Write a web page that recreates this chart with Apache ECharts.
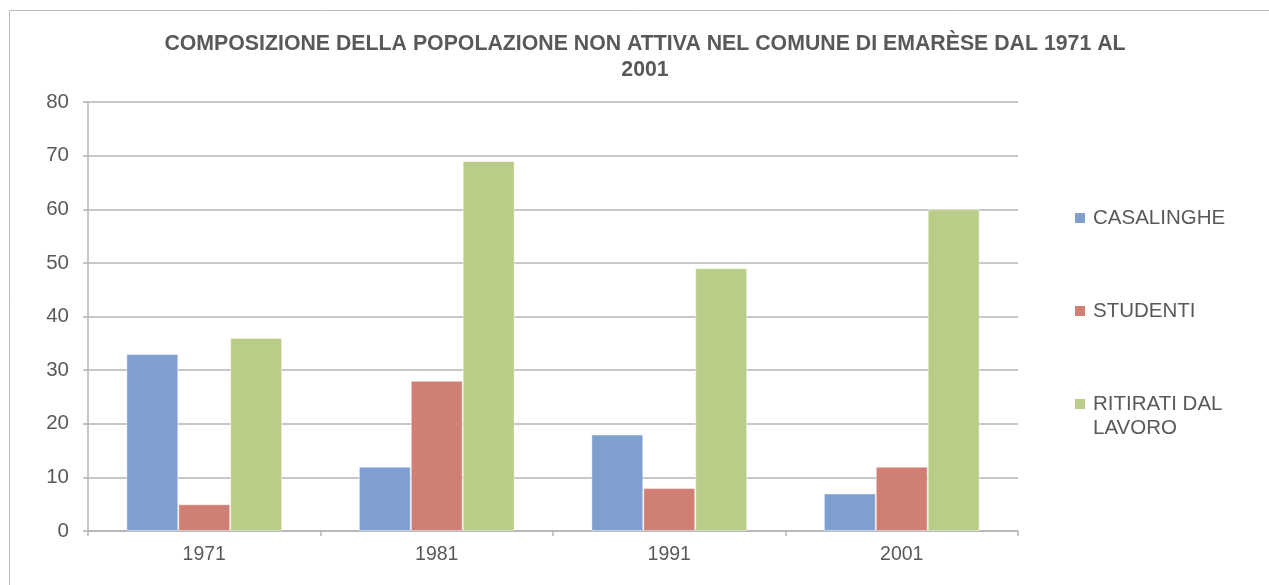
<!DOCTYPE html>
<html>
<head>
<meta charset="utf-8">
<title>Popolazione non attiva - Emarèse</title>
<script src="https://cdn.jsdelivr.net/npm/echarts@6/dist/echarts.min.js"></script>
<style>
  html, body { margin: 0; padding: 0; background: #ffffff; }
  #chart { width: 1269px; height: 585px; }
</style>
</head>
<body>
<div id="chart"></div>
<script>
// Censimenti e composizione della popolazione non attiva
const anni = ['1971', '1981', '1991', '2001'];
const casalinghe = [33, 12, 18, 7];
const studenti = [5, 28, 8, 12];
const ritirati = [36, 69, 49, 60];
const nomiSerie = ['CASALINGHE', 'STUDENTI', 'RITIRATI DAL LAVORO'];
const coloriSerie = ['#7f9fcf', '#d07f75', '#b9cd88'];

const FONT = '"Liberation Sans", Arial, sans-serif';
const GRIGIO_TESTO = '#595959';
const GRIGIO_LINEE = '#b4b4b8';

const chart = echarts.init(document.getElementById('chart'), null, { renderer: 'canvas' });

// One legend per entry so each sits at its own height on the right
function legenda(nome, top, icon, itemHeight) {
  return {
    data: [nome],
    orient: 'vertical',
    left: 1075,
    top: top,
    padding: 0,
    itemWidth: 10,
    itemHeight: itemHeight,
    itemGap: 0,
    icon: icon,
    itemStyle: { borderWidth: 0 },
    selectedMode: false,
    textStyle: {
      fontFamily: FONT,
      fontSize: 20.5,
      color: GRIGIO_TESTO,
      lineHeight: 24,
      padding: [0, 0, 0, 3]
    },
    formatter: function (n) {
      return n === 'RITIRATI DAL LAVORO' ? 'RITIRATI DAL\nLAVORO' : n;
    }
  };
}

function serie(nome, valori, colore) {
  return {
    name: nome,
    type: 'bar',
    data: valori,
    barGap: '0%',
    barCategoryGap: '33%',
    itemStyle: {
      color: colore,
      borderColor: 'rgba(255,255,255,0.45)',
      borderWidth: 1
    },
    emphasis: { disabled: true }
  };
}

chart.setOption({
  animation: false,
  backgroundColor: '#ffffff',
  title: {
    text: 'COMPOSIZIONE DELLA POPOLAZIONE NON ATTIVA NEL COMUNE DI EMARÈSE DAL 1971 AL\n2001',
    left: 645,
    textAlign: 'center',
    top: 31,
    padding: 0,
    textStyle: {
      fontFamily: FONT,
      fontSize: 21.3,
      fontWeight: 'bold',
      color: GRIGIO_TESTO,
      lineHeight: 26
    }
  },
  legend: [
    legenda(nomiSerie[0], 206, 'rect', 10),
    legenda(nomiSerie[1], 299, 'rect', 10),
    // marker aligned with the first line of the two-line label
    legenda(nomiSerie[2], 392, 'path://M0,0L10,0L10,10L0,10Z M0,33.99L0.01,33.99L0.01,34L0,34Z', 34)
  ],
  grid: {
    left: 88,
    right: 251,
    top: 102,
    bottom: 54,
    containLabel: false
  },
  xAxis: {
    type: 'category',
    data: anni,
    axisLine: { show: true, lineStyle: { color: GRIGIO_LINEE, width: 1.5 } },
    axisTick: { show: true, alignWithLabel: false, length: 5, lineStyle: { color: GRIGIO_LINEE, width: 1.5 } },
    axisLabel: { fontFamily: FONT, fontSize: 19.5, color: GRIGIO_TESTO, margin: 14 },
    splitLine: { show: false }
  },
  yAxis: {
    type: 'value',
    min: 0,
    max: 80,
    interval: 10,
    axisLine: { show: true, lineStyle: { color: GRIGIO_LINEE, width: 1.5 } },
    axisTick: { show: true, length: 5, lineStyle: { color: GRIGIO_LINEE, width: 1.5 } },
    axisLabel: { fontFamily: FONT, fontSize: 20.5, color: GRIGIO_TESTO, margin: 19 },
    splitLine: { show: true, lineStyle: { color: GRIGIO_LINEE, width: 1.5 } }
  },
  color: coloriSerie,
  series: [
    serie(nomiSerie[0], casalinghe, coloriSerie[0]),
    serie(nomiSerie[1], studenti, coloriSerie[1]),
    serie(nomiSerie[2], ritirati, coloriSerie[2])
  ],
  graphic: [{
    type: 'rect',
    silent: true,
    shape: { x: 9.5, y: 10.5, width: 1300, height: 600 },
    style: { fill: 'none', stroke: '#bdbdbd', lineWidth: 1 }
  }]
});
</script>
</body>
</html>
